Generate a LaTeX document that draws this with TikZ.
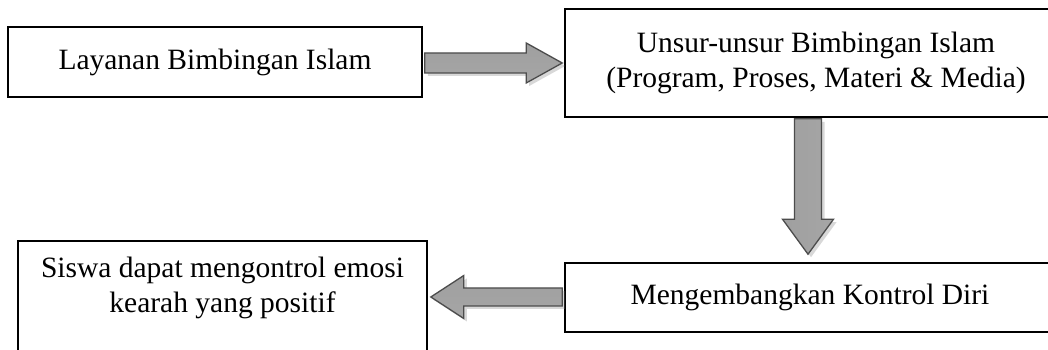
\documentclass[tikz,border=0pt]{standalone}
\usepackage{fontspec}
\setmainfont{Liberation Serif}
\usetikzlibrary{shadows,calc}
\begin{document}
\begin{tikzpicture}[x=1pt,y=1pt,
  box/.style={draw=black, line width=1.6pt, fill=white, inner sep=0pt,
    font=\fontsize{29.5}{35}\selectfont, align=center},
  txt/.style={inner sep=0pt, font=\fontsize{29.5}{35}\selectfont, align=center},
  blockarrow/.style={draw=gray!60!black, line width=1.3pt, line join=miter,
    drop shadow={shadow xshift=3pt, shadow yshift=-3pt, opacity=0.3, fill=gray}},
  harrow/.style={blockarrow, top color=gray!75, middle color=gray!22, bottom color=gray!70},
  varrow/.style={blockarrow, left color=gray!75, middle color=gray!22, right color=gray!70}
]
\clip (0,0) rectangle (1048,350);
\fill[white] (0,0) rectangle (1048,350);

% boxes
\node[box, minimum width=414, minimum height=70] (b1) at (215,288) {\raisebox{4pt}{Layanan Bimbingan Islam}};
\node[box, minimum width=536, minimum height=108] (b2) at (833,287) {\hspace{-34pt}\raisebox{6pt}{\begin{tabular}{@{}c@{}}Unsur-unsur Bimbingan Islam\\[-0.5pt](Program, Proses, Materi \& Media)\end{tabular}}};
\node[box, minimum width=536, minimum height=69] (b3) at (833,52.5) {\hspace{-46pt}\raisebox{2pt}{Mengembangkan Kontrol Diri}};
\node[box, minimum width=409, minimum height=140, anchor=north] (b4) at (222.5,110) {};
\node[txt, anchor=north] (t4) at ($(b4.north)+(0,-17)$) {Siswa dapat mengontrol emosi\\kearah yang positif};

% right arrow: from box 1 to box 2
\coordinate (r1) at ($(b1.east)+(2,-1)$);
\coordinate (r2) at ($(b2.west |- r1)+(-2,0)$);
\shade[harrow] ($(r1)+(0,10)$) -- ($(r2)+(-36,10)$) -- ($(r2)+(-36,20)$) -- (r2)
  -- ($(r2)+(-36,-20)$) -- ($(r2)+(-36,-10)$) -- ($(r1)+(0,-10)$) -- cycle;

% down arrow: from box 2 to box 3
\coordinate (d1) at ($(b2.south)+(-25,-1)$);
\coordinate (d2) at ($(b3.north)+(-25,8)$);
\shade[varrow] ($(d1)+(-13.5,0)$) -- ($(d2)+(-13.5,35)$) -- ($(d2)+(-25.5,35)$) -- (d2)
  -- ($(d2)+(25.5,35)$) -- ($(d2)+(13.5,35)$) -- ($(d1)+(13.5,0)$) -- cycle;

% left arrow: from box 3 to box 4
\coordinate (l1) at ($(b3.west)+(-2,0.5)$);
\coordinate (l2) at ($(b4.east |- l1)+(3,0)$);
\shade[harrow] ($(l1)+(0,9)$) -- ($(l2)+(33,9)$) -- ($(l2)+(33,21.5)$) -- (l2)
  -- ($(l2)+(33,-21.5)$) -- ($(l2)+(33,-9)$) -- ($(l1)+(0,-9)$) -- cycle;
\end{tikzpicture}
\end{document}
